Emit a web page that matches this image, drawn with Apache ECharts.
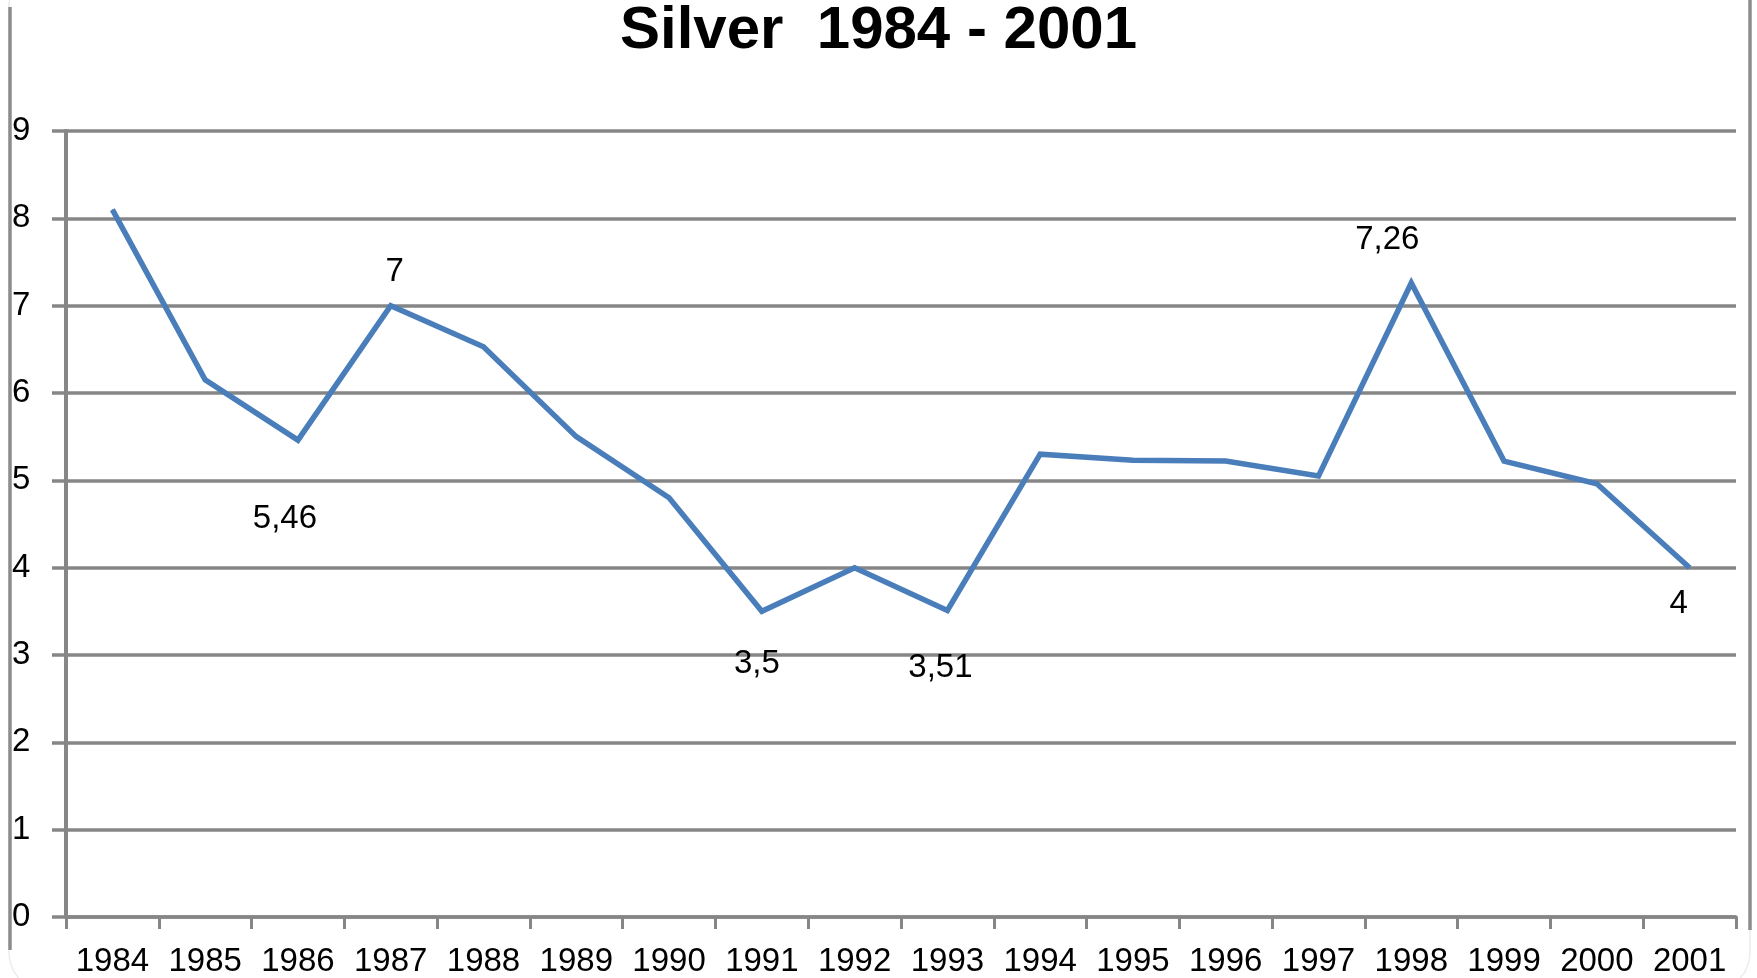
<!DOCTYPE html>
<html>
<head>
<meta charset="utf-8">
<title>Silver 1984 - 2001</title>
<script src="https://cdn.jsdelivr.net/npm/echarts@6/dist/echarts.min.js"></script>
<style>
  html, body { margin: 0; padding: 0; background: #fff; }
  #chart { width: 1757px; height: 978px; }
</style>
</head>
<body>
<div id="chart"></div>
<script>
// values
const years = ['1984', '1985', '1986', '1987', '1988', '1989', '1990', '1991', '1992',
  '1993', '1994', '1995', '1996', '1997', '1998', '1999', '2000', '2001'];
const silverPrices = [8.1, 6.15, 5.46, 7, 6.53, 5.5, 4.8, 3.5, 4.0,
  3.51, 5.3, 5.23, 5.22, 5.05, 7.26, 5.22, 4.96, 4];
const yTicks = [0, 1, 2, 3, 4, 5, 6, 7, 8, 9];
// points that carry a value label
const labelledYears = ['1986', '1987', '1991', '1993', '1998', '2001'];

// where each value label sits relative to its point (px)
const labelOffsets = {
  '1986': [-13, 79],
  '1987': [4, -34],
  '1991': [-5, 53],
  '1993': [-7, 57],
  '1998': [-24, -43],
  '2001': [-11, 36]
};

const gray = '#868686';
const font = 'Liberation Sans';

const seriesData = silverPrices.map((v, i) => {
  const year = years[i];
  if (labelledYears.indexOf(year) < 0) return v;
  return {
    value: v,
    label: {
      show: true,
      position: 'inside',
      align: 'center',
      verticalAlign: 'middle',
      offset: labelOffsets[year],
      formatter: p => String(p.value).replace('.', ','),
      color: '#000',
      fontFamily: font,
      fontSize: 33
    }
  };
});

const chart = echarts.init(document.getElementById('chart'));

chart.setOption({
  animation: false,
  title: {
    text: 'Silver  1984 - 2001',
    left: 'center',
    top: -4,
    textStyle: {
      fontFamily: font,
      fontWeight: 'bold',
      fontSize: 60,
      color: '#000'
    }
  },
  graphic: [
    {
      type: 'rect',
      silent: true,
      shape: { x: 9, y: -33, width: 1741, height: 1025, r: 40 },
      style: { fill: 'none', stroke: '#ececec', lineWidth: 1.5 }
    },
    {
      type: 'line',
      silent: true,
      shape: { x1: 10, y1: 7, x2: 10, y2: 950 },
      style: { stroke: '#8c8c8c', lineWidth: 3.5 }
    },
    {
      type: 'line',
      silent: true,
      shape: { x1: 1750, y1: 0, x2: 1750, y2: 930 },
      style: { stroke: '#8c8c8c', lineWidth: 3.5 }
    }
  ],
  grid: {
    left: 66,
    right: 21,
    top: 131,
    bottom: 61,
    containLabel: false
  },
  xAxis: {
    type: 'category',
    data: years,
    boundaryGap: true,
    axisLine: { show: true, lineStyle: { color: gray, width: 3.5 } },
    axisTick: { show: true, interval: 0, length: 12, lineStyle: { color: gray, width: 3 } },
    axisLabel: {
      interval: 0,
      margin: 28,
      color: '#000',
      fontFamily: font,
      fontSize: 33
    },
    splitLine: { show: false }
  },
  yAxis: {
    type: 'value',
    min: yTicks[0],
    max: yTicks[yTicks.length - 1],
    interval: 1,
    axisLine: { show: true, lineStyle: { color: gray, width: 4 } },
    axisTick: { show: true, length: 14, lineStyle: { color: gray, width: 3.5 } },
    axisLabel: {
      align: 'left',
      margin: 54,
      color: '#000',
      fontFamily: font,
      fontSize: 33
    },
    splitLine: { show: true, lineStyle: { color: gray, width: 3.5 } }
  },
  series: [
    {
      name: 'Silver',
      type: 'line',
      data: seriesData,
      symbol: 'circle',
      symbolSize: 1,
      showSymbol: true,
      itemStyle: { color: '#4a7ebb' },
      lineStyle: { color: '#4a7ebb', width: 5.5, join: 'miter' },
      emphasis: { disabled: true },
      z: 3
    }
  ]
});
</script>
</body>
</html>
